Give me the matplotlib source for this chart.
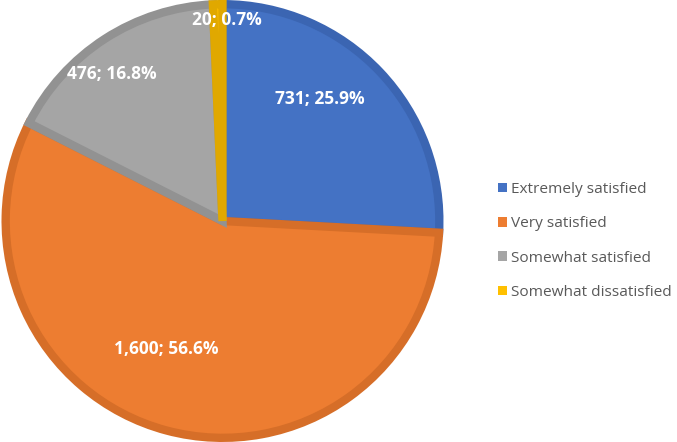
import matplotlib.pyplot as plt

categories = ['Extremely satisfied', 'Very satisfied', 'Somewhat satisfied', 'Somewhat dissatisfied']
counts = [731, 1600, 476, 20]
colors = ['#4472C4', '#ED7D31', '#A5A5A5', '#FFC000']
edges = ['#3B65B2', '#D66E28', '#929292', '#E0A800']
label_pos = [(0.447, 0.562), (-0.26, -0.589), (-0.511, 0.68), (0.018, 0.927)]


def main():
    plt.rcParams['font.family'] = ['Open Sans', 'DejaVu Sans']
    fig = plt.figure(figsize=(6.77, 4.42), dpi=100)
    ax = fig.add_axes([3 / 677, 2 / 442, 439 / 677, 438 / 442])

    wedges, _ = ax.pie(counts, colors=colors, startangle=90, counterclock=False,
                       radius=1.0)
    # darker inner border on each slice
    for w, ec in zip(wedges, edges):
        w.set_edgecolor(ec)
        w.set_linewidth(6)
        w.set_clip_path(w)

    total = sum(counts)
    for c, (x, y) in zip(counts, label_pos):
        ax.text(x, y, f'{c:,}; {c / total * 100:.1f}%', color='white',
                fontsize=12.5, fontweight='bold', ha='center', va='center')

    ax.set_xlim(-1.01, 1.01)
    ax.set_ylim(-1.01, 1.01)
    ax.set_aspect('equal')

    leg = fig.legend(wedges, categories, loc='center left',
                     bbox_to_anchor=(484 / 677, 1 - 241 / 442), frameon=False,
                     fontsize=11.1, handlelength=0.58, handleheight=0.58,
                     handletextpad=0.25, labelspacing=1.25, labelcolor='#595959')
    for h, c in zip(leg.legend_handles, colors):
        h.set_linewidth(0)
        h.set_facecolor(c)

    fig.savefig('out.png', dpi=100)


if __name__ == '__main__':
    main()
